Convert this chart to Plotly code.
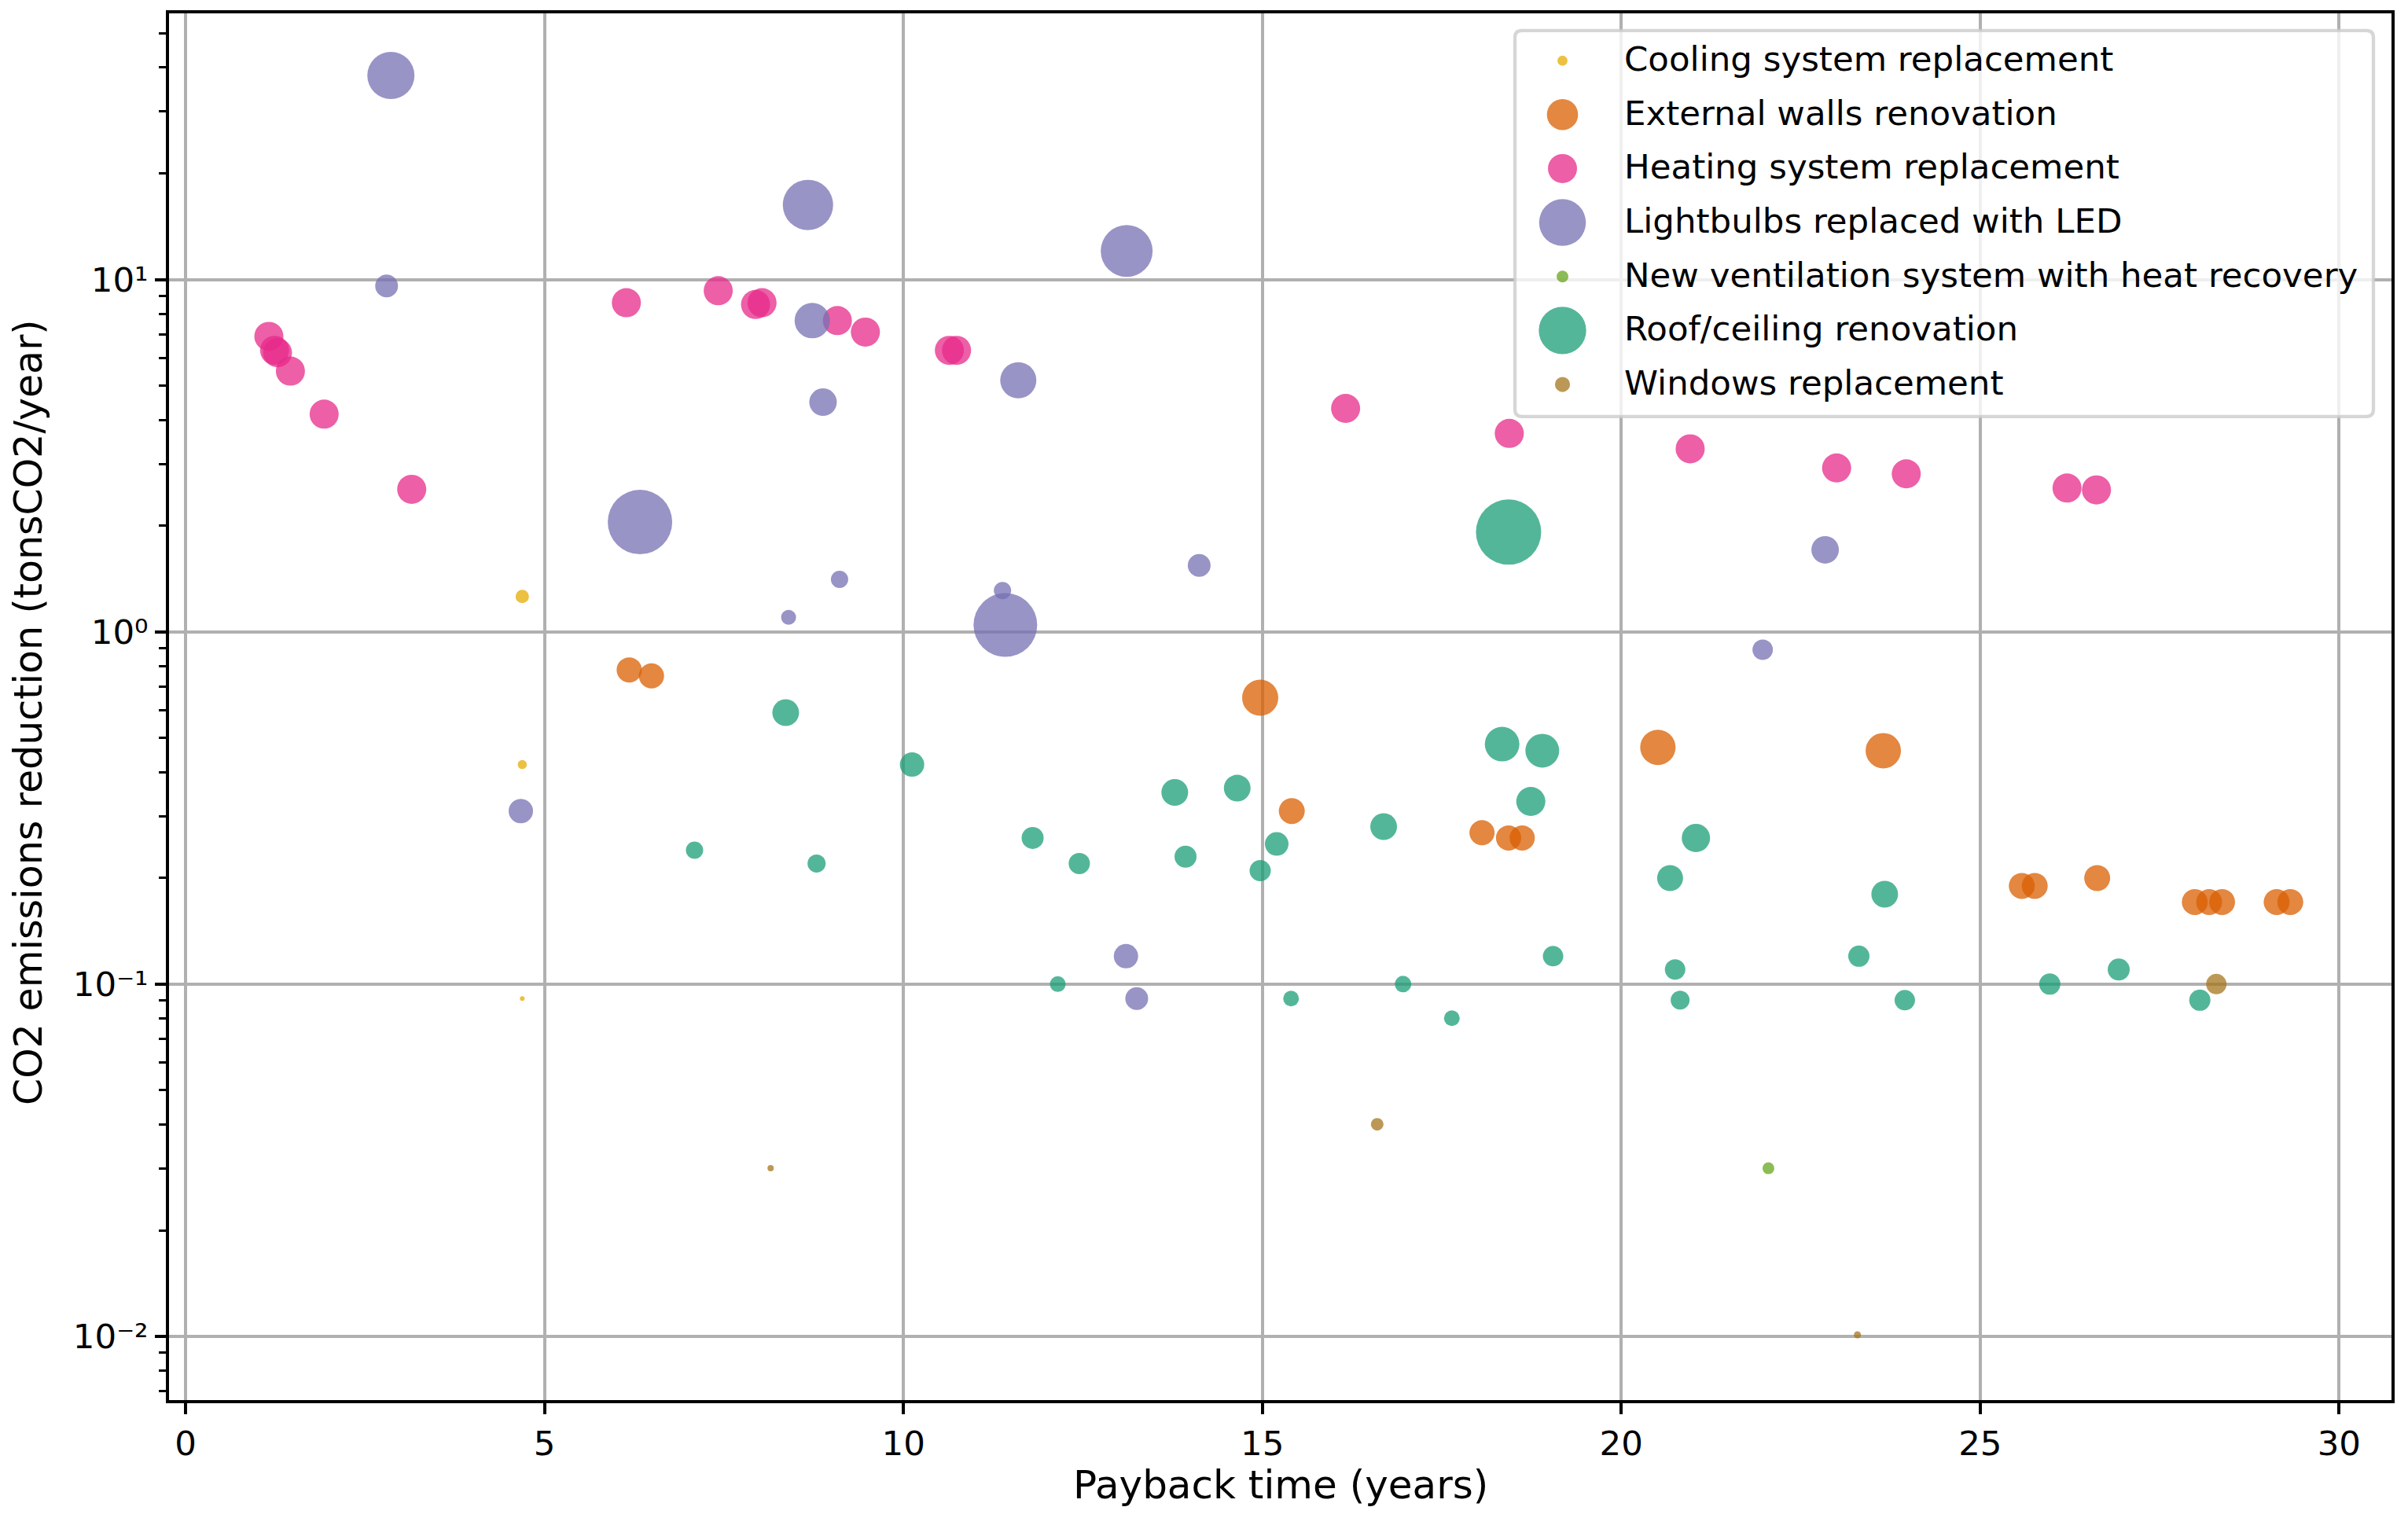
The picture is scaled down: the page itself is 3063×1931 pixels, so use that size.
import math
import plotly.graph_objects as go

# ---------------- data ----------------
categories = [
    "Cooling system replacement",
    "External walls renovation",
    "Heating system replacement",
    "Lightbulbs replaced with LED",
    "New ventilation system with heat recovery",
    "Roof/ceiling renovation",
    "Windows replacement",
]

# payback time (years), CO2 reduction (tons/yr), bubble size value
cooling_x = [4.69, 4.69, 4.69]
cooling_y = [1.26, 0.42, 0.091]
cooling_s = [17, 11.5, 6]

walls_x = [6.18, 6.49, 14.97, 15.41, 20.51, 23.65, 18.06, 18.43, 18.62,
           25.58, 25.76, 26.63, 27.99, 28.19, 28.37, 29.13, 29.32]
walls_y = [0.78, 0.75, 0.65, 0.31, 0.47, 0.46, 0.269, 0.26, 0.26,
           0.19, 0.19, 0.20, 0.171, 0.171, 0.171, 0.171, 0.171]
walls_s = [32, 32, 46, 33, 45, 45, 32, 32, 32,
           33, 33, 33, 33, 33, 33, 33, 33]

heating_x = [1.16, 1.24, 1.28, 1.46, 1.93, 3.15, 6.14, 7.42, 7.94, 8.03,
             9.08, 9.47, 10.64, 10.74, 16.16, 18.44, 20.96, 23.0, 23.97,
             26.21, 26.62]
heating_y = [6.9, 6.3, 6.2, 5.5, 4.15, 2.54, 8.6, 9.3, 8.5, 8.6,
             7.65, 7.1, 6.3, 6.3, 4.31, 3.66, 3.31, 2.92, 2.81,
             2.56, 2.53]
heating_s = [37] * 21

led_x = [2.86, 2.80, 8.67, 6.33, 8.73, 8.88, 11.6, 13.11, 4.67, 9.11,
         8.40, 11.38, 11.42, 14.12, 13.10, 13.25, 22.84, 21.97]
led_y = [38.0, 9.6, 16.3, 2.05, 7.65, 4.49, 5.18, 12.06, 0.31, 1.41,
         1.10, 1.31, 1.046, 1.545, 0.12, 0.091, 1.71, 0.89]
led_s = [60, 29, 64, 82, 45, 35, 46, 66, 31, 22,
         19, 22, 81, 29, 31, 29, 35, 26]

vent_x = [22.05]
vent_y = [0.030]
vent_s = [15]

roof_x = [8.36, 10.12, 7.09, 8.79, 11.80, 12.45, 13.78, 13.93, 14.65, 15.20,
          14.97, 16.69, 18.43, 18.34, 18.90, 18.74, 19.05, 12.15, 15.40, 16.96,
          17.64, 21.04, 20.68, 23.67, 20.75, 23.31, 20.82, 23.95, 25.97, 26.93,
          28.06]
roof_y = [0.59, 0.42, 0.24, 0.22, 0.26, 0.22, 0.35, 0.23, 0.36, 0.25,
          0.21, 0.28, 1.92, 0.48, 0.46, 0.33, 0.12, 0.10, 0.091, 0.10,
          0.080, 0.26, 0.20, 0.18, 0.11, 0.12, 0.09, 0.09, 0.10, 0.11,
          0.09]
roof_s = [34, 31, 22, 23, 28, 27, 34, 28, 34, 30,
          27, 34, 83, 44, 43, 37, 26, 20, 20, 21,
          20, 36, 33, 34, 26, 27, 24, 26, 27, 28,
          27]

windows_x = [8.15, 16.60, 23.29, 28.29]
windows_y = [0.030, 0.040, 0.0101, 0.10]
windows_s = [8, 16, 9, 26]

x_ticks = [0, 5, 10, 15, 20, 25, 30]
y_ticks = [0.01, 0.1, 1, 10]
y_tick_text = ["10\u207b\u00b2", "10\u207b\u00b9", "10\u2070", "10\u00b9"]
x_title = "Payback time (years)"
y_title = "CO2 emissions reduction (tonsCO2/year)"

colors = ["#e6ab02", "#d95f02", "#e7298a", "#7570b3", "#66a61e", "#1b9e77", "#a6761d"]
ALPHA = 0.75

series = [
    (cooling_x, cooling_y, cooling_s),
    (walls_x, walls_y, walls_s),
    (heating_x, heating_y, heating_s),
    (led_x, led_y, led_s),
    (vent_x, vent_y, vent_s),
    (roof_x, roof_y, roof_s),
    (windows_x, windows_y, windows_s),
]

# ---------------- layout geometry (page pixels) ----------------
W, H = 3063, 1931
BODY = 8  # default page body margin
L, R, T, B = 215, 3042, 13, 1781
FONT = "DejaVu Sans"


def px(xp):
    return (xp - L) / (R - L)


def py(yp):
    return (B - yp) / (B - T)


def rgba(hexc, a):
    h = hexc.lstrip("#")
    return "rgba(%d,%d,%d,%.3f)" % (int(h[0:2], 16), int(h[2:4], 16), int(h[4:6], 16), a)


fig = go.Figure()
for name, col, (xs, ys, ss) in zip(categories, colors, series):
    fig.add_trace(go.Scatter(
        x=xs, y=ys, mode="markers", name=name, showlegend=False,
        marker=dict(size=ss, sizemode="diameter", sizeref=1, color=col,
                    opacity=ALPHA, line=dict(width=0)),
    ))

# minor tick positions for log axis
minor_vals = []
for e in range(-3, 2):
    for m in range(2, 10):
        v = m * 10 ** e
        if 0.0066 < v < 57:
            minor_vals.append(v)

axis_common = dict(
    showline=True, linecolor="black", linewidth=3.5, mirror=True,
    ticks="outside", ticklen=14, tickwidth=3.5, tickcolor="black",
    showgrid=True, gridcolor="#b0b0b0", gridwidth=3.5, zeroline=False,
    tickfont=dict(family=FONT, size=43.5, color="black"),
)

fig.update_layout(
    width=W - BODY, height=H - BODY,
    margin=dict(l=L - BODY, r=W - R, t=T - BODY, b=H - B, pad=0),
    paper_bgcolor="white", plot_bgcolor="white",
    font=dict(family=FONT, color="black"),
    showlegend=False,
    xaxis=dict(range=[-0.231, 30.73], tickmode="array", tickvals=x_ticks, **axis_common),
    yaxis=dict(type="log", range=[-2.181, 1.756], tickmode="array", tickvals=y_ticks,
               ticktext=y_tick_text,
               minor=dict(tickmode="array", tickvals=minor_vals, ticks="outside", ticklen=9,
                          tickwidth=2.6, tickcolor="black", showgrid=False),
               **axis_common),
)

# axis titles
fig.add_annotation(text=x_title, xref="paper", yref="paper", x=px((L + R) / 2), y=py(1889),
                   xanchor="center", yanchor="middle", showarrow=False,
                   font=dict(family=FONT, size=50, color="black"))
fig.add_annotation(text=y_title, xref="paper", yref="paper", x=px(37), y=py(905),
                   xanchor="center", yanchor="middle", textangle=-90, showarrow=False,
                   font=dict(family=FONT, size=49, color="black"))

# ---------------- legend (matplotlib-style) ----------------
lx0, lx1, ly0, ly1 = 1927, 3019, 35, 527
r = 9
rx = r / (R - L)
ry = r / (B - T)
X0, X1, Y0, Y1 = px(lx0), px(lx1), py(ly1), py(ly0)
path = (f"M{X0 + rx},{Y0} L{X1 - rx},{Y0} Q{X1},{Y0} {X1},{Y0 + ry} "
        f"L{X1},{Y1 - ry} Q{X1},{Y1} {X1 - rx},{Y1} L{X0 + rx},{Y1} "
        f"Q{X0},{Y1} {X0},{Y1 - ry} L{X0},{Y0 + ry} Q{X0},{Y0} {X0 + rx},{Y0} Z")
fig.add_shape(type="path", path=path, xref="paper", yref="paper", layer="above",
              fillcolor="rgba(255,255,255,0.8)", line=dict(color="rgba(204,204,204,0.8)", width=4.3))

row0, row_step = 73.3, 68.8
marker_cx = 1987.5
text_x = 2064
for i, (name, col, (xs, ys, ss)) in enumerate(zip(categories, colors, series)):
    d = math.sqrt((max(ss) ** 2 + min(ss) ** 2) / 2.0)
    cy = row0 + i * row_step
    fig.add_shape(type="circle", xref="paper", yref="paper", layer="above",
                  xsizemode="pixel", ysizemode="pixel",
                  xanchor=px(marker_cx), yanchor=py(cy),
                  x0=-d / 2, x1=d / 2, y0=-d / 2, y1=d / 2,
                  fillcolor=rgba(col, ALPHA), line=dict(width=0))
    fig.add_annotation(text=name, xref="paper", yref="paper", x=px(text_x), y=py(cy - 2),
                       xanchor="left", yanchor="middle", showarrow=False,
                       font=dict(family=FONT, size=43.5, color="black"))

fig.write_html("out.html")
